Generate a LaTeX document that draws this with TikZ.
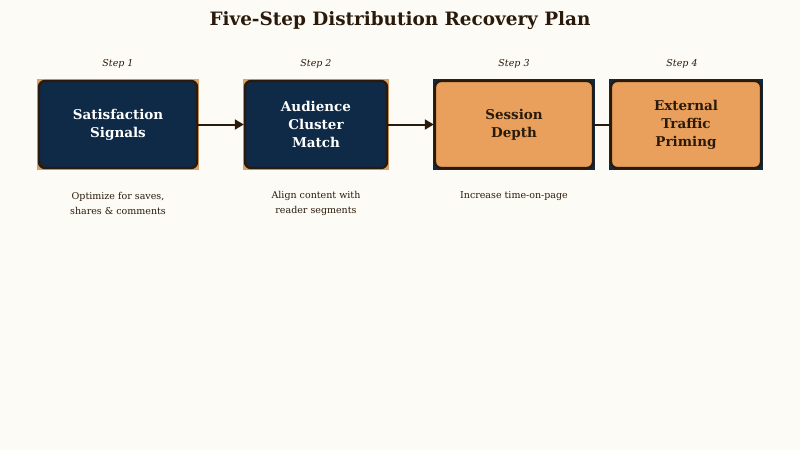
\documentclass[tikz,border=0pt]{standalone}
\usepackage{fontspec}
\setmainfont{DejaVu Serif}
\usetikzlibrary{arrows.meta,backgrounds}
\definecolor{paper}{HTML}{FDFBF6}
\definecolor{navy}{HTML}{0F2A47}
\definecolor{apricot}{HTML}{E8A05C}
\definecolor{umber}{HTML}{2A1A0B}
\definecolor{sand}{HTML}{D9A26A}
\tikzset{
  stepbox/.style={draw=umber, line width=2.4pt, rounded corners=6pt, minimum height=87pt, align=center, font=\bfseries\fontsize{13.5}{18}\selectfont},
  darkbox/.style={stepbox, fill=navy, text=white},
  lightbox/.style={stepbox, fill=apricot, text=umber},
  steplabel/.style={font=\itshape\fontsize{9.5}{12}\selectfont, text=umber},
  note/.style={font=\fontsize{9.5}{15}\selectfont, text=umber, align=center},
  link/.style={draw=umber, line width=2pt}
}
\begin{document}
\begin{tikzpicture}[x=1pt, y=-1pt]
\useasboundingbox (0,0) rectangle (800,450);
\node at (400, 21) (title) {\bfseries\fontsize{18.4}{22}\selectfont\color{umber}Five-Step Distribution Recovery Plan};
% steps
\node[darkbox, minimum width=158pt] at (118, 124.5) (sat) {Satisfaction\\Signals};
\node[darkbox, minimum width=142pt] at (316, 124.5) (aud) {Audience\\Cluster\\Match};
\node[lightbox, minimum width=158pt] at (514, 124.5) (ses) {Session\\Depth};
\node[lightbox, minimum width=150pt] at (686, 124.5) (ext) {External\\Traffic\\Priming};
\node[steplabel] at (118, 64) (s1) {Step 1};
\node[steplabel] at (316, 64) (s2) {Step 2};
\node[steplabel] at (514, 64) (s3) {Step 3};
\node[steplabel] at (682, 64) (s4) {Step 4};
\node[note] at (118, 203.5) (n1) {Optimize for saves,\\shares \& comments};
\node[note] at (316, 203.5) (n2) {Align content with\\reader segments};
\node[note] at (514, 196) (n3) {Increase time-on-page};
% links
\draw[link, -{Triangle[length=9pt, width=10pt]}] (sat) -- (aud);
\draw[link, -{Triangle[length=9pt, width=10pt]}] (aud) -- (ses);
\draw[link] (ses) -- (ext);
\begin{scope}[on background layer]
\fill[paper] (0,0) rectangle (800,450);
\foreach \n/\c in {sat/sand, aud/sand, ses/navy, ext/navy}
  \fill[\c] ([shift={(-0.4,-0.4)}]\n.north west) rectangle ([shift={(0.4,0.4)}]\n.south east);
\end{scope}
\end{tikzpicture}
\end{document}
